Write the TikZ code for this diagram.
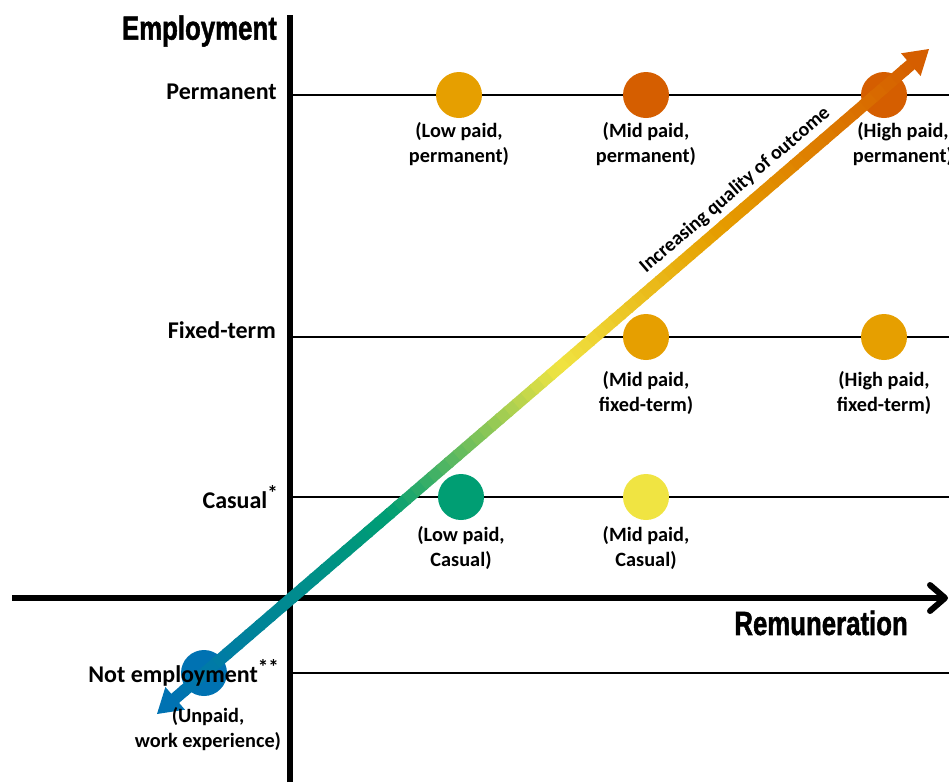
\documentclass[tikz,border=0pt]{standalone}
\usepackage{fontspec}
\setmainfont{Carlito}
\newfontfamily\headfont{Liberation Sans}[BoldFeatures={FakeBold=1.6}]
\usetikzlibrary{calc}

% Okabe-Ito style palette
\definecolor{gbl}{HTML}{0072B2}
\definecolor{ggr}{HTML}{009E73}
\definecolor{gye}{HTML}{F0E442}
\definecolor{gor}{HTML}{E69F00}
\definecolor{gve}{HTML}{D55E00}

\tikzset{
  axisline/.style={line width=6.5pt, black},
  gridline/.style={line width=1.2pt, black},
  dot/.style={circle, minimum size=46pt, inner sep=0pt, draw=none},
  rowlabel/.style={anchor=east, inner sep=0pt, font=\fontsize{24}{28}\selectfont\bfseries},
  dotlabel/.style={anchor=north, align=center, inner sep=0pt, font=\fontsize{20.3}{25}\selectfont\bfseries},
  axistitle/.style={inner sep=0pt},
}

\newcommand{\headtext}[1]{\scalebox{0.77}[1]{\headfont\fontsize{33.5}{36}\selectfont\bfseries #1}}
\newcommand{\notemark}[1]{\raisebox{8pt}{\fontsize{21}{21}\selectfont #1}}

\begin{document}
\begin{tikzpicture}[x=1pt, y=-1pt]
\useasboundingbox (0,0) rectangle (949,782);

% horizontal reference lines for each employment type
\coordinate (gpL) at (293,95);   \coordinate (gpR) at (949,95);
\coordinate (gfL) at (293,337);  \coordinate (gfR) at (949,337);
\coordinate (gcL) at (293,497);  \coordinate (gcR) at (949,497);
\coordinate (gnL) at (293,673);  \coordinate (gnR) at (949,673);
\draw[gridline] (gpL) -- (gpR);
\draw[gridline] (gfL) -- (gfR);
\draw[gridline] (gcL) -- (gcR);
\draw[gridline] (gnL) -- (gnR);

% axes
\coordinate (yaxB) at (290,782);
\coordinate (yaxT) at (290,15);
\coordinate (xaxL) at (12,598);
\coordinate (xaxR) at (942,598);
\coordinate (xtip) at (945,598);
\coordinate (xarmA) at (930,585);
\coordinate (xarmB) at (930,611);
\draw[axisline] (yaxB) -- (yaxT);
\draw[axisline] (xaxL) -- (xaxR);
\draw[line width=6pt, line cap=round, line join=round] (xarmA) -- (xtip) -- (xarmB);

% outcome dots
\node[dot, fill=gor] (lp) at (459,95) {};
\node[dot, fill=gve] (mp) at (646,95) {};
\node[dot, fill=gve] (hp) at (884,95) {};
\node[dot, fill=gor] (mf) at (646,337) {};
\node[dot, fill=gor] (hf) at (884,337) {};
\node[dot, fill=ggr] (lc) at (461,497) {};
\node[dot, fill=gye] (mc) at (646,497) {};
\node[dot, fill=gbl] (un) at (204,673) {};

% gradient arrow: quality of outcome
\coordinate (qlo) at (157,714);
\coordinate (qhi) at (929,49);
\foreach \ca/\cb/\ta/\tb in {gbl/ggr/0.02/0.30, ggr/gye/0.30/0.52, gye/gor/0.52/0.72, gor/gve/0.72/0.98}{
  \foreach \j in {0,...,19}{
    \pgfmathsetmacro\sa{\ta+(\tb-\ta)*\j/20}
    \pgfmathsetmacro\sb{\ta+(\tb-\ta)*(\j+1.2)/20}
    \pgfmathsetmacro\pc{100*(\j+0.5)/20}
    \draw[line width=12pt, \cb!\pc!\ca] ($(qlo)!\sa!(qhi)$) -- ($(qlo)!\sb!(qhi)$);
  }
}
\coordinate (hb) at ($(qhi)!24pt!(qlo)$);
\coordinate (lb) at ($(qlo)!24pt!(qhi)$);
\fill[gve] (qhi) -- ($(hb)!15pt!90:(qhi)$) -- ($(hb)!15pt!-90:(qhi)$) -- cycle;
\fill[gbl] (qlo) -- ($(lb)!15pt!90:(qlo)$) -- ($(lb)!15pt!-90:(qlo)$) -- cycle;
\node[font=\fontsize{19.8}{22}\selectfont\bfseries, rotate=40.7, inner sep=0pt] (qtext) at (735,190) {Increasing quality of outcome};

% dot captions
\node[dotlabel] (lpt) at (459,122) {(Low paid,\\permanent)};
\node[dotlabel] (mpt) at (646,122) {(Mid paid,\\permanent)};
\node[dotlabel] (hpt) at (903,122) {(High paid,\\permanent)};
\node[dotlabel] (mft) at (646,371) {(Mid paid,\\fixed-term)};
\node[dotlabel] (hft) at (884,371) {(High paid,\\fixed-term)};
\node[dotlabel] (lct) at (461,526) {(Low paid,\\Casual)};
\node[dotlabel] (mct) at (646,526) {(Mid paid,\\Casual)};
\node[dotlabel] (unt) at (208,707) {(Unpaid,\\work experience)};

% row labels
\node[rowlabel] (rp) at (277,92) {Permanent};
\node[rowlabel] (rf) at (276,330) {Fixed-term};
\node[rowlabel] (rc) at (278,497) {Casual\notemark{*}};
\node[rowlabel] (rn) at (279,673) {Not employment\notemark{**}};

% axis titles
\node[axistitle, anchor=east] (ytitle) at (277,31) {\headtext{Employment}};
\node[axistitle, anchor=east] (xtitle) at (908,623) {\headtext{Remuneration}};
\end{tikzpicture}
\end{document}
